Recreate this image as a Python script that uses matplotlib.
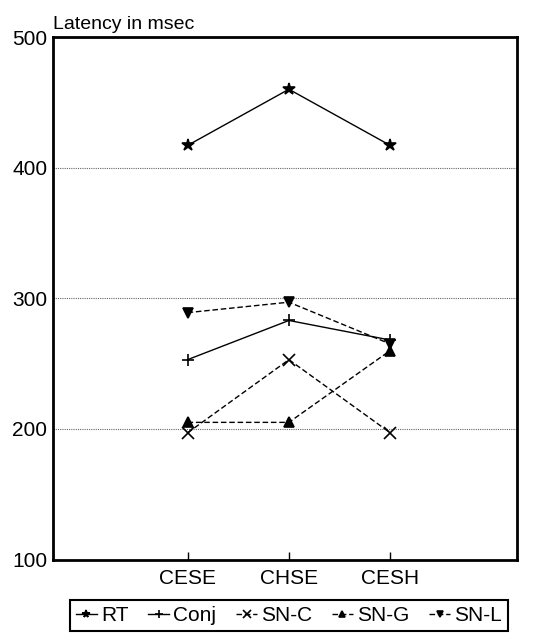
import matplotlib.pyplot as plt

plt.rcParams['font.family'] = ['Liberation Sans', 'DejaVu Sans']

conditions = ['CESE', 'CHSE', 'CESH']
rt = [417, 460, 417]
conj = [253, 283, 268]
sn_c = [197, 253, 197]
sn_g = [205, 205, 260]
sn_l = [289, 297, 265]

series = [
    ('RT', rt, '*', '-'),
    ('Conj', conj, '+', '-'),
    ('SN-C', sn_c, 'x', '--'),
    ('SN-G', sn_g, '^', '--'),
    ('SN-L', sn_l, 'v', '--'),
]

fig = plt.figure(figsize=(5.39, 6.38), dpi=100)
ax = fig.add_axes([0.098, 0.123, 0.861, 0.819])

x = range(len(conditions))
handles = []
for name, vals, mk, ls in series:
    dash = (0, (4, 2)) if ls == '--' else '-'
    h, = ax.plot(x, vals, color='black', linestyle=dash, linewidth=1.0,
                 marker=mk, markersize=9 if mk in '*x+' else 7,
                 markeredgewidth=1.2, label=name)
    handles.append(h)

ax.set_xlim(-1.33, 3.25)
ax.set_ylim(100, 500)
ax.set_yticks([100, 200, 300, 400, 500])
ax.yaxis.grid(True, linestyle=(0, (1, 1)), color='#666666', linewidth=0.8)
ax.set_axisbelow(True)
ax.tick_params(axis='y', length=0, labelsize=15, pad=4)
ax.set_xticks(list(x))
ax.set_xticklabels(conditions)
ax.tick_params(axis='x', direction='in', length=6, width=1, labelsize=15, pad=7)
for s in ax.spines.values():
    s.set_linewidth(2)

ax.text(0.0, 1.008, 'Latency in msec', transform=ax.transAxes,
        fontsize=14, ha='left', va='bottom')

leg = fig.legend(handles=handles, loc='lower right', ncol=5,
                 bbox_to_anchor=(0.962, -0.006), fontsize=15,
                 handlelength=1.0, handletextpad=0.2, columnspacing=0.95,
                 borderpad=0.3, fancybox=False, edgecolor='black',
                 framealpha=1, markerscale=0.6)
leg.get_frame().set_linewidth(1.5)

fig.savefig('out.png', dpi=100)
